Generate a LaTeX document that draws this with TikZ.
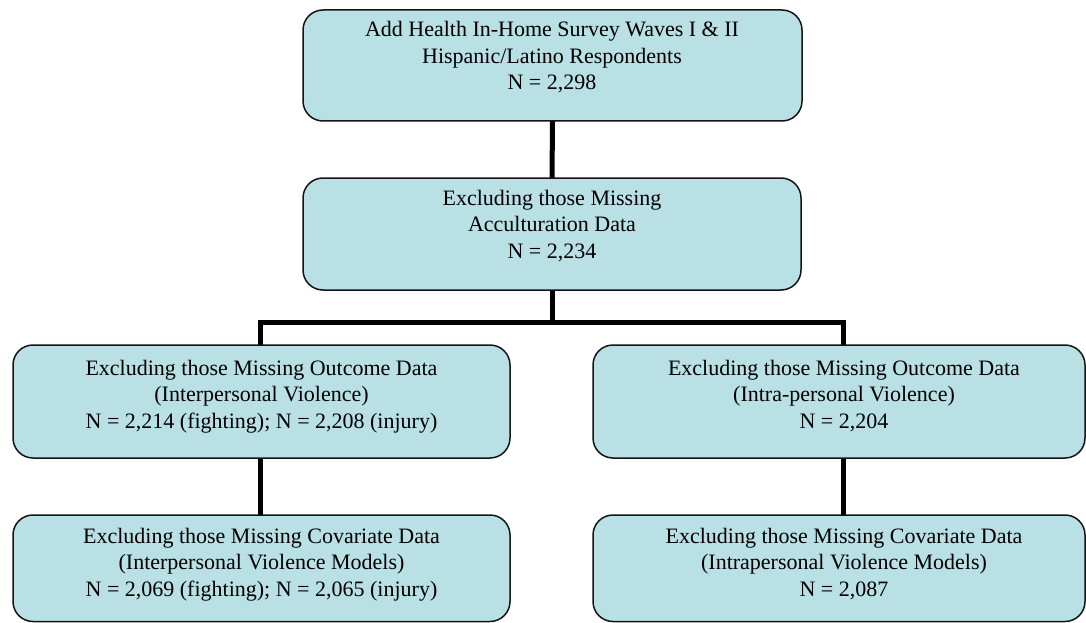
\documentclass[tikz,border=0pt]{standalone}
\usepackage{fontspec}
\setmainfont{Liberation Serif}
\usetikzlibrary{backgrounds}
\definecolor{boxfill}{RGB}{185,224,228}
\definecolor{boxline}{RGB}{20,20,20}
\tikzset{
  box/.style={draw=boxline, line width=1.5pt, fill=boxfill, rounded corners=20pt,
    minimum width=#1, inner sep=0pt, outer sep=0pt},
  box/.default=497pt,
  txt/.style={align=center, anchor=north, inner sep=0pt, font=\fontsize{22}{26.5}\selectfont},
  link/.style={line width=5pt, draw=black, line join=miter},
}
\begin{document}
\begin{tikzpicture}[x=1pt,y=-1pt]
\useasboundingbox (0,0) rectangle (1086,623);
\node[box=499pt, minimum height=111pt] (b1) at (552.5,65.5) {};
\node[box=498pt, minimum height=112pt] (b2) at (552,234) {};
\node[box=497pt, minimum height=113pt] (b3) at (261.5,401.5) {};
\node[box=492pt, minimum height=113pt] (b4) at (839,401.5) {};
\node[box=497pt, minimum height=106.5pt] (b5) at (261.5,568.25) {};
\node[box=492pt, minimum height=106.5pt] (b6) at (839,568.25) {};

\node[txt] (t1) at (552,21.5) {Add Health In-Home Survey Waves I \& II\\Hispanic/Latino Respondents\\N = 2,298};
\node[txt] (t2) at (552,190) {Excluding those Missing\\Acculturation Data\\N = 2,234};
\node[txt] (t3) at (261.5,360) {Excluding those Missing Outcome Data\\(Interpersonal Violence)\\N = 2,214 (fighting); N = 2,208 (injury)};
\node[txt] (t4) at (844,360) {Excluding those Missing Outcome Data\\(Intra-personal Violence)\\N = 2,204};
\node[txt] (t5) at (261.5,528) {Excluding those Missing Covariate Data\\(Interpersonal Violence Models)\\N = 2,069 (fighting); N = 2,065 (injury)};
\node[txt] (t6) at (844,528) {Excluding those Missing Covariate Data\\(Intrapersonal Violence Models)\\N = 2,087};

\coordinate (jm) at (552,322);
\coordinate (jl) at (260,322);
\coordinate (jr) at (843,322);
\begin{scope}[on background layer]
\draw[link] (b1.south) -- (b2.north);
\draw[link] (b2.south) -- (jm);
\draw[link] (jl |- b3.north) -- (jl) -- (jr) -- (jr |- b4.north);
\draw[link] (jl |- b3.south) -- (jl |- b5.north);
\draw[link] (jr |- b4.south) -- (jr |- b6.north);
\end{scope}
\end{tikzpicture}
\end{document}
